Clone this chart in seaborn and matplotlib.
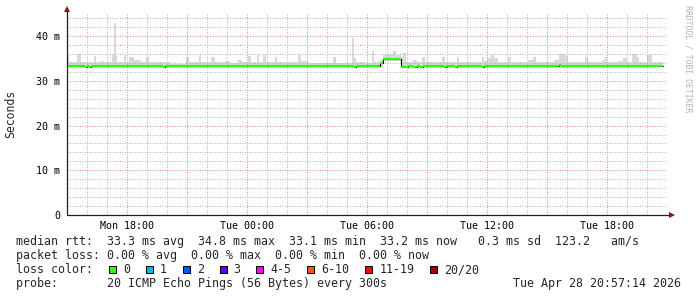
import numpy as np
import pandas as pd
import matplotlib
matplotlib.use("Agg")
import matplotlib.pyplot as plt
from matplotlib.patches import Rectangle
from matplotlib.ticker import MultipleLocator, FuncFormatter
import seaborn as sns

# ---------------- data (hours since Mon 15:00, values in ms) ----------------
smoke_hours = [0, 0.1, 0.5, 0.7, 1.35, 1.45, 1.7, 1.85, 2.25, 2.35, 2.45, 2.5, 2.85, 2.95,
               3.1, 3.35, 3.7, 3.95, 4.1, 5.2, 5.95, 6.1, 6.6, 6.7, 7.2, 7.4, 7.9, 8.15,
               8.55, 8.75, 9.05, 9.2, 9.5, 9.6, 9.8, 9.95, 10.4, 10.5, 11.55, 11.7, 12.05,
               13.3, 13.45, 14.25, 14.35, 14.45, 14.9, 15.25, 15.35, 15.65, 15.8, 16.05,
               16.3, 16.45, 16.7, 16.8, 16.95, 17.3, 17.5, 17.75, 17.9, 18.75, 18.9, 19.5,
               19.6, 20.75, 20.85, 21.0, 21.2, 21.35, 21.55, 22.05, 22.2, 23.05, 23.3,
               23.45, 24.35, 24.6, 24.9, 25.05, 25.9, 26.05, 26.75, 26.9, 27.0, 27.55,
               27.8, 28.0, 28.25, 28.5, 28.6, 29.0, 29.25, 29.8]
smoke_top = [35.8, 34.2, 36.0, 34.2, 35.6, 34.2, 34.4, 34.2, 35.7, 43.0, 35.5, 34.2, 35.9, 34.2,
             35.3, 34.7, 34.2, 35.3, 34.3, 33.7, 35.4, 34.2, 35.7, 34.2, 35.3, 34.2, 34.4, 34.0,
             34.6, 34.2, 35.5, 34.2, 35.8, 34.2, 35.8, 34.2, 35.3, 34.2, 35.9, 34.4, 34.0,
             35.3, 34.0, 39.7, 35.2, 34.2, 34.0, 36.8, 34.2, 34.7, 35.8, 36.1,
             36.7, 35.9, 35.3, 36.2, 34.2, 34.7, 34.2, 35.3, 34.2, 35.3, 34.2, 35.3,
             34.2, 35.4, 34.4, 35.2, 35.9, 35.2, 34.2, 35.3, 34.2, 34.7, 35.3,
             34.2, 34.7, 36.0, 35.6, 34.2, 35.4, 34.2, 34.7, 35.4, 34.2, 34.4,
             35.2, 34.2, 36.0, 35.4, 34.2, 35.9, 34.2, 34.2]
smoke_low_hours = [0, 15.8, 16.7, 29.8]
smoke_low = [33.0, 34.5, 33.0, 33.0]

median_hours = [0, 0.9, 1.0, 1.1, 1.2, 4.8, 4.9, 14.35, 14.45, 15.65, 15.8, 16.7, 17.05,
                17.3, 17.5, 17.65, 17.8, 18.85, 18.95, 19.4, 19.5, 20.75, 20.85, 24.6,
                24.7, 29.8]
median_ms = [33.3, 33.0, 33.3, 33.0, 33.3, 33.0, 33.3, 33.0, 33.3, 33.9, 34.8, 33.0, 33.3,
             33.0, 33.3, 33.0, 33.3, 33.0, 33.3, 33.0, 33.3, 33.0, 33.3, 33.45,
             33.3, 33.3]

x_label_hours = [3, 9, 15, 21, 27]
x_labels = ["Mon 18:00", "Tue 00:00", "Tue 06:00", "Tue 12:00", "Tue 18:00"]
y_ticks = [0, 10, 20, 30, 40]
y_labels = ["0", "10 m", "20 m", "30 m", "40 m"]

loss_labels = ["0", "1", "2", "3", "4-5", "6-10", "11-19", "20/20"]
loss_colors = ["#26ff00", "#00b8ff", "#0059ff", "#5e00ff", "#ff00ff", "#ff5500", "#ff0000", "#a00000"]

legend_line1 = "median rtt:  33.3 ms avg  34.8 ms max  33.1 ms min  33.2 ms now   0.3 ms sd  123.2   am/s"
legend_line2 = "packet loss: 0.00 % avg  0.00 % max  0.00 % min  0.00 % now"
legend_line3 = "loss color:"
legend_line4 = "probe:       20 ICMP Echo Pings (56 Bytes) every 300s"
date_text = "Tue Apr 28 20:57:14 2026"

# ---------------- figure ----------------
sns.set_theme(style="white")
plt.rcParams["font.family"] = ["DejaVu Sans Mono"]
W, H = 697, 297
fig = plt.figure(figsize=(W / 100, H / 100), dpi=100, facecolor="white")
L, R, T, B = 67, 667, 13.85, 215
ax = fig.add_axes([L / W, 1 - B / H, (R - L) / W, (B - T) / H])
ax.set_facecolor("white")

MAJ = "#e48c8c"
MIN = "#b4b4b4"
GREEN = loss_colors[0]

# smoke
t_all = np.array(sorted(set(smoke_hours) | set(smoke_low_hours)))
top_idx = np.searchsorted(smoke_hours, t_all, side="right") - 1
low_idx = np.searchsorted(smoke_low_hours, t_all, side="right") - 1
hi = np.array(smoke_top)[top_idx]
lo = np.array(smoke_low)[low_idx]
ax.fill_between(t_all, lo, hi, step="post", color="#d9d9d9", lw=0, zorder=1)

# median: black step outline then green segments
df_med = pd.DataFrame({"hours": median_hours, "ms": median_ms})
sns.lineplot(data=df_med, x="hours", y="ms", drawstyle="steps-post", color="black",
             lw=0.8, estimator=None, ax=ax, zorder=3)
ax.hlines(median_ms[:-1], median_hours[:-1], median_hours[1:], color=GREEN, lw=1.6, zorder=4)

ax.set_xlim(0, 30)
ax.set_ylim(0, 45)
ax.set_xlabel("")
ax.set_ylabel("")

ax.xaxis.set_major_locator(MultipleLocator(3))
ax.xaxis.set_minor_locator(MultipleLocator(1))
ax.yaxis.set_major_locator(MultipleLocator(10))
ax.yaxis.set_minor_locator(MultipleLocator(2))
xl = dict(zip(x_label_hours, x_labels))
yl = dict(zip(y_ticks, y_labels))
ax.xaxis.set_major_formatter(FuncFormatter(lambda v, p: xl.get(int(round(v)), "")))
ax.yaxis.set_major_formatter(FuncFormatter(lambda v, p: yl.get(int(round(v)), "")))

ax.set_axisbelow("line")
dots = (0, (1, 1.5))
ax.grid(which="major", color=MAJ, lw=0.72, ls=dots)
ax.grid(which="minor", color=MIN, lw=0.72, ls=dots)
ax.tick_params(which="major", direction="out", length=1.6, width=0.72, color=MAJ,
               labelsize=7.2, labelcolor="black")
ax.tick_params(which="minor", direction="out", length=1.6, width=0.72, color=MIN)
ax.tick_params(axis="x", which="major", pad=2.6)
ax.tick_params(axis="y", which="major", pad=3.4)
for s in ax.spines.values():
    s.set_visible(False)

# axis lines with arrows
ytop = 1 + (T - 9) / (B - T)
xright = 1 + 5 / (R - L)
ax.plot([0, 0], [0, ytop], color="#202020", lw=0.9, transform=ax.transAxes, clip_on=False, zorder=5)
ax.plot([0, xright], [0, 0], color="#202020", lw=0.9, transform=ax.transAxes, clip_on=False, zorder=5)
ax.plot([0], [ytop], marker="^", ms=4, color="#8c1414", mew=0, transform=ax.transAxes, clip_on=False, zorder=6)
ax.plot([xright], [0], marker=">", ms=4, color="#8c1414", mew=0, transform=ax.transAxes, clip_on=False, zorder=6)

# axis title + watermark
fig.text(11 / W, 1 - 114 / H, "Seconds", rotation=90, ha="center", va="center", fontsize=8.3)
fig.text(688 / W, 1 - 5 / H, "RRDTOOL / TOBI OETIKER", rotation=270, ha="center", va="top",
         fontsize=5.9, color="#b4b4b4")

# legend block
fs = 8.39
cw = 7.03
def ftxt(x, yb, s, **kw):
    fig.text(x / W, 1 - yb / H, s, fontsize=fs, va="baseline", **kw)

ftxt(16, 245.5, legend_line1, ha="left")
ftxt(16, 259.3, legend_line2, ha="left")
ftxt(16, 273.1, legend_line3, ha="left")
ftxt(16, 286.9, legend_line4, ha="left")
ftxt(681, 286.9, date_text, ha="right")

pos = 13.2
for lab, col in zip(loss_labels, loss_colors):
    xs = 16 + cw * pos
    fig.patches.append(Rectangle((xs / W, 1 - 272.5 / H), 7 / W, 7 / H, transform=fig.transFigure,
                                 facecolor=col, edgecolor="black", lw=0.72))
    ftxt(xs + 2 * cw, 273.1, lab, ha="left")
    pos += len(lab) + 4.25

fig.savefig("out.png", dpi=100, facecolor="white")
